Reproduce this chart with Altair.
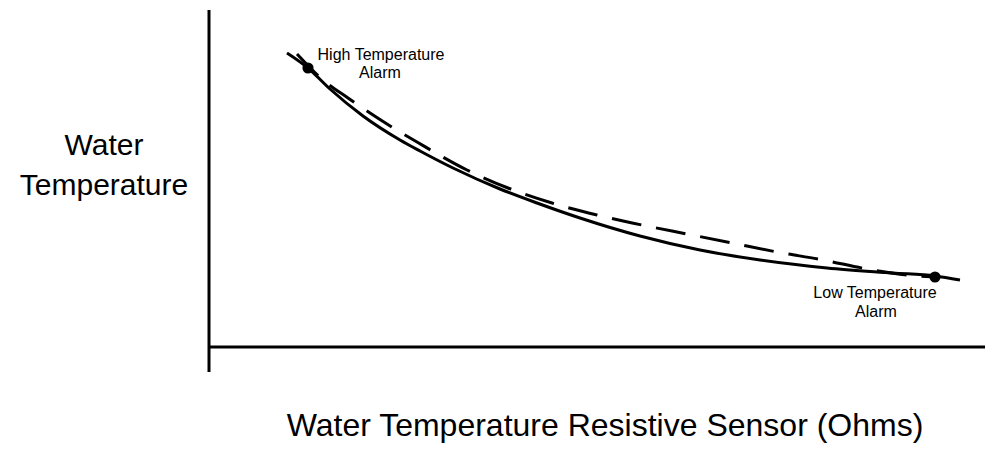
import altair as alt
import pandas as pd

# Sensor curve (solid) – resistance units vs temperature units (origin at axes crossing)
solid_x = [78, 99, 121, 154, 191, 211, 244, 291, 328, 371, 431, 491, 551, 618, 684, 726, 751]
solid_y = [294, 279, 258, 231, 207, 196, 179, 158, 144, 129, 111, 97, 87, 79, 74, 71, 67]

# Approximation curve (dashed)
dash_x = [88, 114, 139, 178, 208, 258, 299, 343, 388, 433, 478, 523, 568, 614, 658, 698, 726]
dash_y = [293, 267, 249, 223, 205, 177, 159, 144, 132, 122, 113, 104, 95, 87, 78, 72, 70]

# Alarm points
alarm_x = [99, 726]
alarm_y = [279, 70]

# Annotation text lines
note_text = ["High Temperature", "Alarm", "Low Temperature", "Alarm"]
note_x = [172, 171, 666, 667]
note_y = [287, 269, 49, 30]

# Axis titles
ylab_text = ["Water", "Temperature"]
ylab_x = [-105, -105]
ylab_y = [192, 152]
xlab_text = ["Water Temperature Resistive Sensor (Ohms)"]
xlab_x = [396]
xlab_y = [-89]

# Axis line extents
vaxis_x = [0]
vaxis_y = [337]
vaxis_y2 = [-25]
haxis_y = [0]
haxis_x = [0]
haxis_x2 = [784]

XS = alt.Scale(domain=[-201, 776], nice=False, zero=False)
YS = alt.Scale(domain=[-96, 339], nice=False, zero=False)

def X(f="x"):
    return alt.X(f"{f}:Q", scale=XS, axis=None)

def Y(f="y"):
    return alt.Y(f"{f}:Q", scale=YS, axis=None)

solid = alt.Chart(pd.DataFrame({"x": solid_x, "y": solid_y})).mark_line(
    color="black", strokeWidth=3, interpolate="monotone", clip=False
).encode(x=X(), y=Y())

dashed = alt.Chart(pd.DataFrame({"x": dash_x, "y": dash_y})).mark_line(
    color="black", strokeWidth=3, strokeDash=[30, 15], interpolate="monotone", clip=False
).encode(x=X(), y=Y())

dots = alt.Chart(pd.DataFrame({"x": alarm_x, "y": alarm_y})).mark_circle(
    color="black", size=125, opacity=1
).encode(x=X(), y=Y())

vaxis = alt.Chart(pd.DataFrame({"x": vaxis_x, "y": vaxis_y, "y2": vaxis_y2})).mark_rule(
    color="black", strokeWidth=3
).encode(x=X(), y=Y(), y2="y2:Q")

haxis = alt.Chart(pd.DataFrame({"x": haxis_x, "x2": haxis_x2, "y": haxis_y})).mark_rule(
    color="black", strokeWidth=3
).encode(x=X(), x2="x2:Q", y=Y())

notes = alt.Chart(pd.DataFrame({"x": note_x, "y": note_y, "t": note_text})).mark_text(
    font="Liberation Sans", fontSize=16, color="black", align="center", baseline="alphabetic"
).encode(x=X(), y=Y(), text="t:N")

ylab = alt.Chart(pd.DataFrame({"x": ylab_x, "y": ylab_y, "t": ylab_text})).mark_text(
    font="Liberation Sans", fontSize=30, color="black", align="center", baseline="alphabetic"
).encode(x=X(), y=Y(), text="t:N")

xlab = alt.Chart(pd.DataFrame({"x": xlab_x, "y": xlab_y, "t": xlab_text})).mark_text(
    font="Liberation Sans", fontSize=32, color="black", align="center", baseline="alphabetic"
).encode(x=X(), y=Y(), text="t:N")

chart = alt.layer(vaxis, haxis, dashed, solid, dots, notes, ylab, xlab).properties(
    width=977, height=435, padding=0, autosize=alt.AutoSizeParams(type="none"),
    background="white"
).configure_view(stroke=None)

chart.save("out.html", embed_options={"renderer": "svg", "actions": False})
